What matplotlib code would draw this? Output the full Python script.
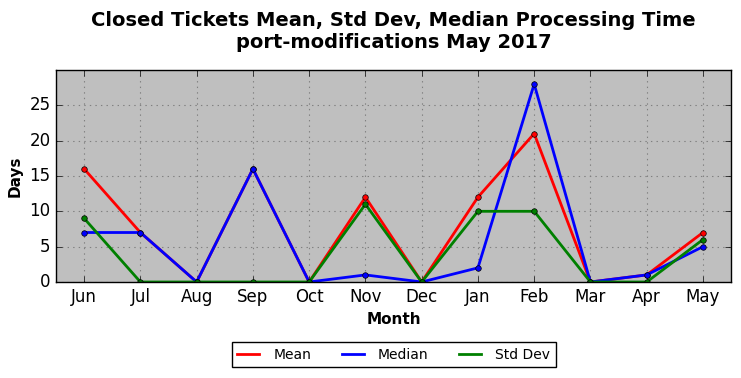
import matplotlib
matplotlib.use("Agg")
import matplotlib.pyplot as plt

plt.style.use("classic")

months = ["Jun", "Jul", "Aug", "Sep", "Oct", "Nov", "Dec", "Jan", "Feb", "Mar", "Apr", "May"]
mean_days = [16, 7, 0, 16, 0, 12, 0, 12, 21, 0, 1, 7]
median_days = [7, 7, 0, 16, 0, 1, 0, 2, 28, 0, 1, 5]
std_days = [9, 0, 0, 0, 0, 11, 0, 10, 10, 0, 0, 6]

fig = plt.figure(figsize=(7.41, 3.78), dpi=100, facecolor="white")
ax = fig.add_axes([0.0756, 0.254, 0.911, 0.561])
ax.set_facecolor("#bfbfbf")

x = list(range(len(months)))
ax.plot(x, mean_days, color="red", lw=2, marker="o", ms=4, label="Mean")
ax.plot(x, median_days, color="blue", lw=2, marker="o", ms=4, label="Median")
ax.plot(x, std_days, color="green", lw=2, marker="o", ms=4, label="Std Dev")

ax.set_xlim(-0.5, 11.5)
ax.set_ylim(0, 30)
ax.set_yticks([0, 5, 10, 15, 20, 25])
ax.set_xticks(x)
ax.set_xticklabels(months)
ax.tick_params(labelsize=12)
ax.grid(True, color="gray", linestyle=":", linewidth=0.8)
ax.set_axisbelow(True)
ax.set_xlabel("Month", fontsize=11, fontweight="bold")
ax.set_ylabel("Days", fontsize=11, fontweight="bold")

cx = 0.0756 + 0.911 / 2
fig.suptitle("Closed Tickets Mean, Std Dev, Median Processing Time\nport-modifications May 2017",
             fontsize=14, fontweight="bold", x=cx, y=0.97)

leg = fig.legend(loc="center", bbox_to_anchor=(cx, 0.061), ncol=3, fontsize=10,
                 frameon=True, fancybox=False, numpoints=1, handlelength=1.6,
                 handletextpad=1.0, columnspacing=2.2)
for h in leg.legend_handles:
    h.set_marker("")

fig.savefig("out.png", dpi=100, facecolor="white")
